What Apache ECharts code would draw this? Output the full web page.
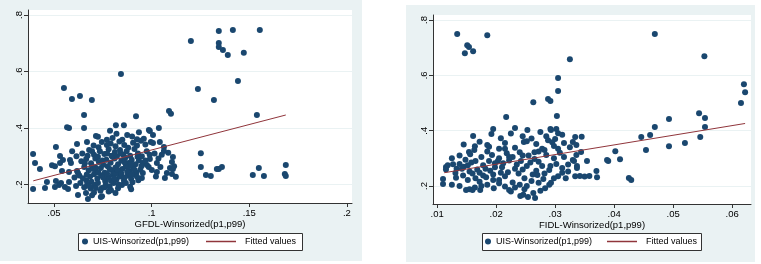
<!DOCTYPE html>
<html>
<head>
<meta charset="utf-8">
<script src="https://cdn.jsdelivr.net/npm/echarts@6/dist/echarts.min.js"></script>
<style>
  html, body { margin: 0; padding: 0; background: #fff; }
  #chart { width: 761px; height: 264px; }
</style>
</head>
<body>
<div id="chart"></div>
<script>
// GFDL (left panel) vs UIS
const gfdlPoints = [
  [0.1201, 0.708], [0.1344, 0.743], [0.1416, 0.747], [0.1554, 0.747], [0.1344, 0.701], [0.1344, 0.687],
  [0.1365, 0.676], [0.139, 0.658], [0.1472, 0.666], [0.1442, 0.566], [0.1237, 0.538], [0.1319, 0.499],
  [0.1539, 0.446], [0.0551, 0.542], [0.0592, 0.503], [0.0633, 0.513], [0.0694, 0.499], [0.0654, 0.446],
  [0.0843, 0.591], [0.0817, 0.41], [0.0858, 0.41], [0.092, 0.442], [0.1089, 0.46], [0.1099, 0.45],
  [0.0567, 0.403], [0.0577, 0.4], [0.0654, 0.4], [0.0986, 0.393], [0.1037, 0.4],
  [0.1252, 0.311], [0.1252, 0.262], [0.1278, 0.234], [0.1303, 0.23], [0.1334, 0.255], [0.1344, 0.255],
  [0.136, 0.262], [0.1518, 0.234], [0.1549, 0.258], [0.1575, 0.23], [0.1687, 0.269], [0.1682, 0.237],
  [0.1687, 0.23],
  [0.0393, 0.308], [0.0403, 0.276], [0.0428, 0.255], [0.0393, 0.184], [0.0454, 0.188], [0.0464, 0.209],
  [0.0715, 0.372], [0.0725, 0.369], [0.0771, 0.358], [0.0787, 0.39], [0.082, 0.38], [0.0875, 0.375],
  [0.09, 0.37], [0.0935, 0.385], [0.096, 0.362], [0.0991, 0.389], [0.1007, 0.375], [0.08, 0.365],
  [0.085, 0.358], [0.0925, 0.36],
  [0.0669, 0.35], [0.0618, 0.343], [0.051, 0.333], [0.0771, 0.34], [0.0745, 0.35], [0.079, 0.345],
  [0.0815, 0.335], [0.0835, 0.352], [0.086, 0.34], [0.088, 0.33], [0.0905, 0.348], [0.0925, 0.338],
  [0.0945, 0.355], [0.0968, 0.342], [0.0996, 0.35], [0.1007, 0.347], [0.1042, 0.35], [0.1063, 0.333],
  [0.0728, 0.332], [0.0703, 0.338],
  [0.0531, 0.301], [0.0593, 0.318], [0.0645, 0.31], [0.068, 0.322], [0.0705, 0.305], [0.0735, 0.318],
  [0.0758, 0.308], [0.078, 0.325], [0.0795, 0.302], [0.0812, 0.315], [0.0838, 0.322], [0.0855, 0.305],
  [0.0872, 0.318], [0.089, 0.302], [0.0912, 0.326], [0.093, 0.31], [0.095, 0.3], [0.0975, 0.318],
  [0.099, 0.305], [0.1063, 0.319], [0.1109, 0.297], [0.0615, 0.3],
  [0.0546, 0.287], [0.0531, 0.276], [0.0582, 0.287], [0.0587, 0.276], [0.064, 0.282], [0.0665, 0.29],
  [0.069, 0.275], [0.0712, 0.292], [0.073, 0.28], [0.0752, 0.27], [0.0768, 0.288], [0.079, 0.277],
  [0.081, 0.292], [0.0828, 0.272], [0.0845, 0.284], [0.0865, 0.295], [0.0882, 0.276], [0.0898, 0.288],
  [0.0918, 0.272], [0.0935, 0.285], [0.0955, 0.276], [0.0991, 0.29], [0.1027, 0.276], [0.1104, 0.28],
  [0.0976, 0.269], [0.08, 0.298],
  [0.049, 0.268], [0.0505, 0.265], [0.0541, 0.248], [0.0577, 0.244], [0.0618, 0.248], [0.0623, 0.241],
  [0.0655, 0.262], [0.0678, 0.25], [0.0695, 0.265], [0.0718, 0.245], [0.074, 0.258], [0.076, 0.242],
  [0.0775, 0.265], [0.0798, 0.25], [0.0815, 0.26], [0.0832, 0.244], [0.085, 0.255], [0.0868, 0.265],
  [0.0885, 0.248], [0.0905, 0.26], [0.0922, 0.242], [0.0942, 0.252], [0.1001, 0.251], [0.0955, 0.241],
  [0.1027, 0.244], [0.1094, 0.258], [0.1109, 0.255], [0.1078, 0.241], [0.1104, 0.237], [0.0702, 0.255],
  [0.0785, 0.255],
  [0.0536, 0.205], [0.0577, 0.209], [0.051, 0.212], [0.0605, 0.225], [0.063, 0.232], [0.0665, 0.215],
  [0.0685, 0.228], [0.0705, 0.236], [0.0722, 0.22], [0.0742, 0.232], [0.0762, 0.212], [0.078, 0.225],
  [0.0802, 0.235], [0.082, 0.218], [0.0838, 0.228], [0.0858, 0.214], [0.0878, 0.232], [0.0895, 0.22],
  [0.0915, 0.235], [0.0932, 0.215], [0.095, 0.223], [0.0925, 0.227], [0.1068, 0.223], [0.1124, 0.227],
  [0.0692, 0.21], [0.0815, 0.238],
  [0.0526, 0.198], [0.0505, 0.191], [0.0556, 0.191], [0.0572, 0.184], [0.0613, 0.195], [0.0635, 0.205],
  [0.0655, 0.19], [0.067, 0.2], [0.0688, 0.186], [0.0708, 0.198], [0.0725, 0.205], [0.0745, 0.188],
  [0.0765, 0.2], [0.0785, 0.192], [0.0805, 0.205], [0.0828, 0.187], [0.0848, 0.198], [0.0868, 0.205],
  [0.089, 0.192], [0.0895, 0.183], [0.0738, 0.178],
  [0.0623, 0.163], [0.0664, 0.17], [0.0674, 0.149], [0.074, 0.156], [0.0746, 0.158], [0.0705, 0.172],
  [0.078, 0.175], [0.0815, 0.17], [0.0695, 0.162],
  [0.0725, 0.298], [0.0748, 0.285], [0.0772, 0.31], [0.0822, 0.3], [0.0842, 0.31], [0.0862, 0.278],
  [0.0878, 0.262], [0.0895, 0.272], [0.0912, 0.252], [0.0928, 0.298], [0.0948, 0.265], [0.0968, 0.285],
  [0.0985, 0.262], [0.0712, 0.26], [0.0728, 0.242], [0.0752, 0.225], [0.0772, 0.238], [0.0792, 0.212],
  [0.0808, 0.222], [0.0825, 0.252], [0.0845, 0.238], [0.0862, 0.225], [0.0875, 0.245], [0.0898, 0.235],
  [0.0902, 0.208], [0.0668, 0.235], [0.0648, 0.222], [0.068, 0.195], [0.0715, 0.188], [0.076, 0.19],
  [0.0792, 0.18], [0.083, 0.2], [0.0658, 0.275], [0.0672, 0.302], [0.0695, 0.318], [0.1015, 0.31],
  [0.1035, 0.292], [0.1045, 0.262], [0.1052, 0.305], [0.1085, 0.312], [0.1115, 0.265], [0.1022, 0.228]
]
const gfdlFit = [[0.0394, 0.213], [0.1687, 0.446]]

// FIDL (right panel) vs UIS
const fidlPoints = [
  [0.0134, 0.749], [0.0185, 0.745], [0.0151, 0.709], [0.0154, 0.702], [0.0147, 0.68], [0.0161, 0.687],
  [0.0325, 0.658], [0.0305, 0.59], [0.0305, 0.543], [0.0288, 0.514], [0.0292, 0.507], [0.0263, 0.503],
  [0.0217, 0.449], [0.0303, 0.453], [0.0195, 0.406], [0.0292, 0.406], [0.0302, 0.406],
  [0.0469, 0.749], [0.0553, 0.669], [0.062, 0.568], [0.0622, 0.539], [0.0615, 0.5], [0.0544, 0.463],
  [0.0554, 0.446], [0.0493, 0.442], [0.0469, 0.413], [0.0554, 0.413],
  [0.0446, 0.377], [0.0461, 0.384], [0.0546, 0.377], [0.0493, 0.344], [0.052, 0.355], [0.0454, 0.33],
  [0.0402, 0.326], [0.039, 0.29], [0.041, 0.297], [0.0388, 0.294], [0.0425, 0.229], [0.0429, 0.222],
  [0.0354, 0.29], [0.037, 0.254], [0.0371, 0.232], [0.0358, 0.236], [0.035, 0.234], [0.0342, 0.236],
  [0.0334, 0.235],
  [0.011, 0.225], [0.011, 0.207], [0.0115, 0.269], [0.0118, 0.275], [0.0115, 0.26],
  [0.0161, 0.381], [0.0192, 0.388], [0.0208, 0.373], [0.0225, 0.39], [0.0245, 0.38], [0.026, 0.372],
  [0.0275, 0.395], [0.0293, 0.402], [0.0305, 0.391], [0.0285, 0.38], [0.03, 0.37], [0.0312, 0.385],
  [0.0334, 0.377], [0.0345, 0.378], [0.0232, 0.41], [0.0253, 0.402],
  [0.0164, 0.344], [0.0185, 0.348], [0.0215, 0.355], [0.0247, 0.359], [0.0252, 0.362], [0.0268, 0.352],
  [0.0288, 0.365], [0.0295, 0.358], [0.0298, 0.345], [0.033, 0.359], [0.0336, 0.348], [0.0315, 0.355],
  [0.0325, 0.34], [0.0232, 0.338], [0.0205, 0.335], [0.0172, 0.36], [0.0145, 0.35], [0.0278, 0.335],
  [0.0154, 0.323], [0.0156, 0.315], [0.0193, 0.312], [0.0344, 0.323], [0.0336, 0.312], [0.0125, 0.3],
  [0.0138, 0.31], [0.0148, 0.295], [0.0175, 0.305], [0.0185, 0.325], [0.0205, 0.3], [0.0218, 0.318],
  [0.0228, 0.305], [0.024, 0.322], [0.0255, 0.31], [0.0265, 0.298], [0.0272, 0.325], [0.0285, 0.312],
  [0.0298, 0.3], [0.0308, 0.32], [0.0315, 0.305], [0.033, 0.294], [0.0332, 0.29], [0.0163, 0.33],
  [0.0127, 0.279], [0.0138, 0.28], [0.0133, 0.262], [0.0131, 0.247], [0.0145, 0.27], [0.0158, 0.285],
  [0.0168, 0.26], [0.0178, 0.275], [0.019, 0.255], [0.0198, 0.282], [0.021, 0.268], [0.022, 0.25],
  [0.0235, 0.278], [0.0245, 0.26], [0.0258, 0.285], [0.0268, 0.255], [0.0278, 0.272], [0.029, 0.258],
  [0.0302, 0.28], [0.0312, 0.265], [0.0322, 0.252], [0.0337, 0.272], [0.0337, 0.265], [0.0155, 0.252],
  [0.0203, 0.29],
  [0.0132, 0.23], [0.0144, 0.238], [0.0152, 0.222], [0.016, 0.245], [0.0172, 0.215], [0.0183, 0.232],
  [0.0195, 0.242], [0.0205, 0.222], [0.0215, 0.235], [0.0228, 0.213], [0.0238, 0.245], [0.0248, 0.228],
  [0.026, 0.218], [0.027, 0.24], [0.028, 0.225], [0.0293, 0.212], [0.0305, 0.235], [0.0318, 0.228],
  [0.0208, 0.248],
  [0.0149, 0.186], [0.0155, 0.188], [0.016, 0.186], [0.0173, 0.186], [0.0175, 0.2], [0.0164, 0.195],
  [0.0185, 0.205], [0.0196, 0.192], [0.0215, 0.198], [0.0222, 0.186], [0.0225, 0.18], [0.0232, 0.195],
  [0.024, 0.205], [0.0246, 0.168], [0.0254, 0.16], [0.0266, 0.157], [0.0263, 0.175], [0.0275, 0.183],
  [0.0283, 0.192], [0.029, 0.205], [0.0241, 0.164], [0.0248, 0.188], [0.0138, 0.2], [0.0125, 0.205],
  [0.0142, 0.262], [0.0152, 0.275], [0.0165, 0.29], [0.0172, 0.248], [0.0182, 0.262], [0.0188, 0.29],
  [0.0198, 0.268], [0.0212, 0.282], [0.0222, 0.292], [0.0232, 0.262], [0.0242, 0.29], [0.0252, 0.272],
  [0.0262, 0.242], [0.0272, 0.288], [0.0282, 0.245], [0.0292, 0.272], [0.0298, 0.228], [0.0312, 0.248],
  [0.0322, 0.278], [0.0195, 0.222], [0.0178, 0.238], [0.0165, 0.228], [0.0222, 0.305], [0.0245, 0.31],
  [0.0265, 0.322], [0.0282, 0.33], [0.0305, 0.335], [0.0215, 0.335], [0.0188, 0.342], [0.0252, 0.2],
  [0.0272, 0.212], [0.0205, 0.21]
]
const fidlFit = [[0.0112, 0.248], [0.0622, 0.426]]

const yTicks = [0.2, 0.4, 0.6, 0.8]
const gfdlTicks = [0.05, 0.1, 0.15, 0.2]
const fidlTicks = [0.01, 0.02, 0.03, 0.04, 0.05, 0.06]

const scatterName = 'UIS-Winsorized(p1,p99)'
const fitName = 'Fitted values'
const font = '"Liberation Sans", Arial, sans-serif'
const navy = '#1a476f'
const maroon = '#90353b'
const panelBg = '#eaf2f3'

// .05 instead of 0.05, like Stata
function stataLabel(v) {
  return String(v).replace(/^0\./, '.')
}

function xAxisFor(gridIndex, name, min, max, ticks) {
  return {
    type: 'value',
    gridIndex: gridIndex,
    min: min,
    max: max,
    name: name,
    nameLocation: 'middle',
    nameGap: 16,
    nameMoveOverlap: false,
    nameTextStyle: { color: '#000', fontSize: 9.5, fontFamily: font },
    axisLine: { onZero: false, lineStyle: { color: '#333', width: 1 } },
    axisTick: { show: true, length: 4, customValues: ticks, lineStyle: { color: '#333' } },
    axisLabel: { customValues: ticks, formatter: stataLabel, color: '#000', fontSize: 9.5, fontFamily: font, margin: 5 },
    splitLine: { show: false }
  }
}

function yAxisFor(gridIndex, min, max) {
  return {
    type: 'value',
    gridIndex: gridIndex,
    min: min,
    max: max,
    axisLine: { show: true, onZero: false, lineStyle: { color: '#333', width: 1 } },
    axisTick: { show: true, length: 4, customValues: yTicks, lineStyle: { color: '#333' } },
    axisLabel: { customValues: yTicks, formatter: stataLabel, rotate: 90, color: '#000', fontSize: 9.5, fontFamily: font, margin: 4 },
    splitLine: { show: true, customValues: yTicks, lineStyle: { color: panelBg, width: 1 } }
  }
}

const legendText = { fontSize: 9, color: '#000', fontFamily: font }

const myChart = echarts.init(document.getElementById('chart'))

const option = {
  animation: false,
  backgroundColor: '#fff',
  textStyle: { fontFamily: font },
  graphic: [
    // panel backgrounds
    { type: 'rect', z: -10, shape: { x: 0, y: 0, width: 362, height: 261 }, style: { fill: panelBg } },
    { type: 'rect', z: -10, shape: { x: 406, y: 5, width: 349, height: 257 }, style: { fill: panelBg } },
    // legend boxes
    { type: 'rect', z: 2, shape: { x: 78.5, y: 233.5, width: 224, height: 17 }, style: { fill: '#fff', stroke: '#333', lineWidth: 1 } },
    { type: 'rect', z: 2, shape: { x: 482.5, y: 233.5, width: 219, height: 17 }, style: { fill: '#fff', stroke: '#333', lineWidth: 1 } }
  ],
  grid: [
    { left: 28, top: 10, width: 324, height: 193, show: true, backgroundColor: '#fff', borderWidth: 0 },
    { left: 433, top: 15, width: 318, height: 189, show: true, backgroundColor: '#fff', borderWidth: 0 }
  ],
  xAxis: [
    xAxisFor(0, 'GFDL-Winsorized(p1,p99)', 0.0367, 0.2026, gfdlTicks),
    xAxisFor(1, 'FIDL-Winsorized(p1,p99)', 0.0093, 0.0632, fidlTicks)
  ],
  yAxis: [
    yAxisFor(0, 0.1345, 0.8177),
    yAxisFor(1, 0.135, 0.818)
  ],
  legend: [
    { data: [{ name: scatterName, icon: 'circle' }], left: 82, top: 237, padding: 0, itemWidth: 6, itemHeight: 6,
      textStyle: legendText },
    { data: [{ name: fitName, icon: 'rect', itemStyle: { color: maroon } }], left: 206, top: 237, padding: 0,
      itemWidth: 30, itemHeight: 1.5, textStyle: Object.assign({ padding: [0, 0, 0, 4] }, legendText) },
    { data: [{ name: scatterName, icon: 'circle' }], left: 485, top: 237, padding: 0, itemWidth: 6, itemHeight: 6,
      textStyle: legendText },
    { data: [{ name: fitName, icon: 'rect', itemStyle: { color: maroon } }], left: 607, top: 237, padding: 0,
      itemWidth: 30, itemHeight: 1.5, textStyle: Object.assign({ padding: [0, 0, 0, 4] }, legendText) }
  ],
  series: [
    {
      name: scatterName, type: 'scatter', xAxisIndex: 0, yAxisIndex: 0,
      symbolSize: 6, itemStyle: { color: navy, opacity: 1 }, data: gfdlPoints
    },
    {
      name: fitName, type: 'line', xAxisIndex: 0, yAxisIndex: 0, symbol: 'none',
      lineStyle: { color: maroon, width: 1 }, itemStyle: { color: maroon }, data: gfdlFit, z: 3
    },
    {
      name: scatterName, type: 'scatter', xAxisIndex: 1, yAxisIndex: 1,
      symbolSize: 6, itemStyle: { color: navy, opacity: 1 }, data: fidlPoints
    },
    {
      name: fitName, type: 'line', xAxisIndex: 1, yAxisIndex: 1, symbol: 'none',
      lineStyle: { color: maroon, width: 1 }, itemStyle: { color: maroon }, data: fidlFit, z: 3
    }
  ]
}

myChart.setOption(option)
window.addEventListener('resize', function() {
  myChart.resize()
})
</script>
</body>
</html>
